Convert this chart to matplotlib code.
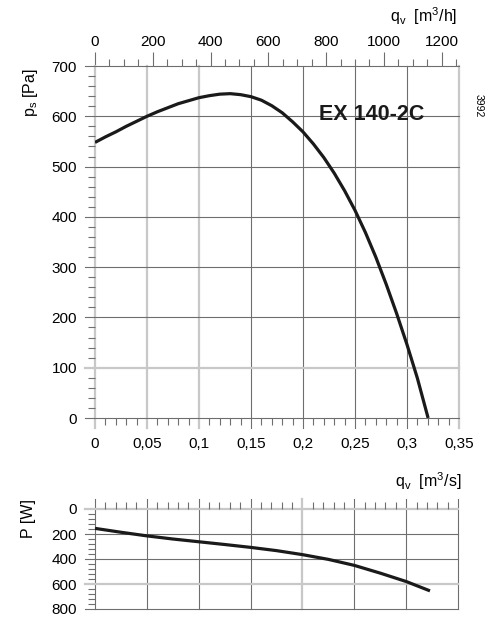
import matplotlib
matplotlib.use("Agg")
import matplotlib.pyplot as plt
from matplotlib.ticker import MultipleLocator, FixedLocator, NullFormatter

plt.rcParams['font.family'] = ['Liberation Sans', 'DejaVu Sans']
plt.rcParams['mathtext.fontset'] = 'custom'
plt.rcParams['mathtext.rm'] = 'Liberation Sans'
plt.rcParams['mathtext.it'] = 'Liberation Sans:italic'
plt.rcParams['font.size'] = 11

# ---- data ----
qv_ps = [0, 0.01, 0.02, 0.03, 0.04, 0.05, 0.06, 0.07, 0.08, 0.09, 0.10,
         0.11, 0.12, 0.13, 0.14, 0.15, 0.16, 0.17, 0.18, 0.19, 0.20,
         0.21, 0.22, 0.23, 0.24, 0.25, 0.26, 0.27, 0.28, 0.29, 0.30,
         0.31, 0.3203]
ps = [548, 559, 569, 580, 590, 600, 609, 617, 625, 631, 637,
      641, 644, 645, 643, 639, 632, 621, 607, 589, 569,
      545, 518, 487, 452, 413, 369, 320, 266, 208, 146,
      79, 0]

qv_p = [0, 0.025, 0.05, 0.075, 0.1, 0.125, 0.15, 0.175, 0.2, 0.225,
        0.25, 0.275, 0.3, 0.323]
power = [155, 186, 215, 240, 262, 284, 307, 333, 365, 403,
         451, 513, 580, 655]

x_ticks = [0, 0.05, 0.1, 0.15, 0.2, 0.25, 0.3, 0.35]
x_labels = ["0", "0,05", "0,1", "0,15", "0,2", "0,25", "0,3", "0,35"]
ps_ticks = [0, 100, 200, 300, 400, 500, 600, 700]
ph_ticks = [0, 200, 400, 600, 800, 1000, 1200]
p_ticks = [0, 200, 400, 600, 800]

DARK = '#6e6e6e'
LIGHT = '#c8c8c8'
CURVE = '#1a1a1a'

W, H = 500, 617
fig = plt.figure(figsize=(W / 100, H / 100), dpi=100)

def rect(l, t, r, b):
    return [l / W, 1 - b / H, (r - l) / W, (b - t) / H]

# ---- top chart ----
ax = fig.add_axes(rect(95, 66, 459, 418))
ax.set_xlim(0, 0.35)
ax.set_ylim(0, 700)
for s in ax.spines.values():
    s.set_visible(False)

light_v_top = [0, 0.05, 0.1, 0.35]
light_h_top = [100]
ext_y = 10 / 352
ext_x = 10 / 364
for x in x_ticks:
    lt = any(abs(x - v) < 1e-9 for v in light_v_top)
    ax.axvline(x, ymin=-ext_y, ymax=1, clip_on=False,
               color=LIGHT if lt else DARK, lw=1.6 if lt else 0.8, zorder=1)
for y in ps_ticks:
    lt = y in light_h_top
    ax.axhline(y, xmin=-ext_x, xmax=1, clip_on=False,
               color=LIGHT if lt else DARK, lw=1.6 if lt else 0.8, zorder=1)

ax.plot(qv_ps, ps, color=CURVE, lw=2.3, zorder=3, solid_capstyle='butt',
        solid_joinstyle='round')

ax.set_xticks(x_ticks)
ax.set_xticklabels(x_labels)
ax.set_yticks(ps_ticks)
ax.xaxis.set_minor_locator(MultipleLocator(0.01))
ax.yaxis.set_minor_locator(MultipleLocator(20))
ax.tick_params(axis='both', which='major', length=10, width=0, pad=3, labelsize=11)
ax.tick_params(axis='both', which='minor', length=5, width=0.8, color=DARK, direction='out')
ax.tick_params(axis='x', which='major', pad=4)

sec = ax.secondary_xaxis('top', functions=(lambda v: v * 3600, lambda v: v / 3600))
sec.set_xticks(ph_ticks)
sec.set_xticklabels([str(v) for v in ph_ticks])
sec.xaxis.set_minor_locator(MultipleLocator(50))
sec.tick_params(which='major', length=10, width=0.8, color=DARK, direction='out', pad=2, labelsize=11)
sec.tick_params(which='minor', length=5, width=0.8, color=DARK, direction='out')
for s in sec.spines.values():
    s.set_visible(False)

ax.text(0.2663, 603, "EX 140-2C", fontsize=15.5, fontweight='bold', ha='center', va='center',
        color='#1a1a1a', zorder=4)

# ---- bottom chart ----
bx = fig.add_axes(rect(95, 509, 458, 609))
bx.set_xlim(0, 0.35)
bx.set_ylim(800, 0)
for s in bx.spines.values():
    s.set_visible(False)

light_v_bot = [0.2]
light_h_bot = [0, 600]
eyb = 10 / 100
exb = 10 / 363
for x in x_ticks:
    lt = any(abs(x - v) < 1e-9 for v in light_v_bot)
    bx.axvline(x, ymin=0, ymax=1 + eyb, clip_on=False,
               color=LIGHT if lt else DARK, lw=1.6 if lt else 0.8, zorder=1)
for y in p_ticks:
    lt = y in light_h_bot
    bx.axhline(y, xmin=-exb, xmax=1, clip_on=False,
               color=LIGHT if lt else DARK, lw=1.6 if lt else 0.8, zorder=1)

bx.plot(qv_p, power, color=CURVE, lw=2.3, zorder=3, solid_capstyle='butt',
        solid_joinstyle='round')

bx.set_yticks(p_ticks)
bx.set_yticklabels([str(v) for v in p_ticks])
bx.yaxis.set_minor_locator(MultipleLocator(40))
bx.xaxis.set_major_locator(FixedLocator(x_ticks))
bx.xaxis.set_minor_locator(MultipleLocator(0.01))
bx.xaxis.set_major_formatter(NullFormatter())
bx.xaxis.tick_top()
bx.tick_params(axis='y', which='major', length=10, width=0, pad=3, labelsize=11)
bx.tick_params(axis='x', which='major', length=0, labeltop=False, labelbottom=False)
bx.tick_params(axis='both', which='minor', length=5, width=0.8, color=DARK, direction='out')

# ---- labels ----
def ft(x, y, s, **kw):
    fig.text(x / W, 1 - y / H, s, **kw)

ft(31, 93, r'p$_\mathrm{s}$ [Pa]', rotation=90, ha='center', va='center', fontsize=11.5)
ft(28, 518, 'P [W]', rotation=90, ha='center', va='center', fontsize=11.5)
ft(424, 16, r'q$_\mathrm{v}$  [m$^3$/h]', ha='center', va='center', fontsize=11.5)
ft(428, 481, r'q$_\mathrm{v}$  [m$^3$/s]', ha='center', va='center', fontsize=11.5)
ft(479, 106, '3992', rotation=270, ha='center', va='center', fontsize=7.5)

fig.savefig('out.png', dpi=100)
